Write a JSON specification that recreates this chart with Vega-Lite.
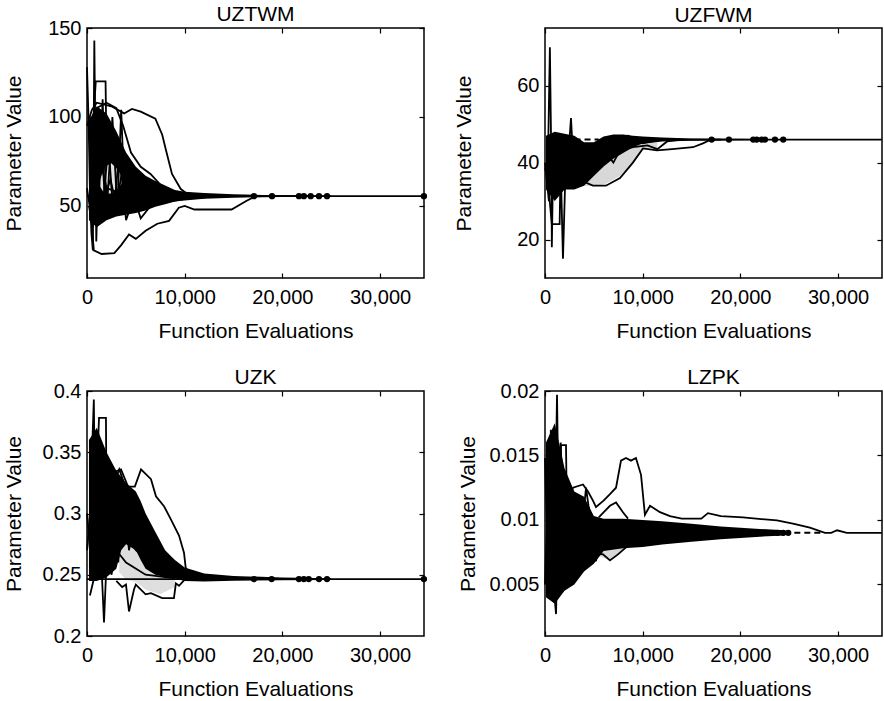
{
"$schema": "https://vega.github.io/schema/vega-lite/v6.json",
"background": "white",
"padding": {"left": 2, "top": 3, "right": 0, "bottom": 0},
"bounds": "flush",
"columns": 2,
"spacing": {"row": 113, "column": 121},
"datasets": {
"b1": [
{"k":"core","x":200,"lo":42,"hi":98},{"k":"core","x":1000,"lo":38,"hi":106},{"k":"core","x":2000,"lo":42,"hi":102},{"k":"core","x":3000,"lo":44,"hi":92},{"k":"core","x":4000,"lo":45,"hi":80},{"k":"core","x":5000,"lo":46,"hi":72},{"k":"core","x":6000,"lo":47.5,"hi":67},{"k":"core","x":7000,"lo":49.5,"hi":64},{"k":"core","x":8000,"lo":51,"hi":61.5},{"k":"core","x":9000,"lo":52.5,"hi":59},{"k":"core","x":10000,"lo":53,"hi":58},{"k":"core","x":12000,"lo":54,"hi":57.3},{"k":"core","x":15000,"lo":54.6,"hi":56.6},{"k":"core","x":18000,"lo":54.9,"hi":56.2},{"k":"core","x":22000,"lo":55.1,"hi":56},{"k":"core","x":25000,"lo":55.3,"hi":55.8},
{"k":"patch","x":1300,"lo":61,"hi":64},{"k":"patch","x":1800,"lo":57,"hi":72},{"k":"patch","x":2500,"lo":57,"hi":74},{"k":"patch","x":3200,"lo":60,"hi":70},{"k":"patch","x":3600,"lo":63,"hi":66}
],
"b2": [
{"k":"gray","x":4000,"lo":34,"hi":36},{"k":"gray","x":5000,"lo":34,"hi":38},{"k":"gray","x":6240,"lo":34.5,"hi":41},{"k":"gray","x":7680,"lo":36.5,"hi":43},{"k":"gray","x":9000,"lo":40,"hi":44.5},{"k":"gray","x":10000,"lo":43.5,"hi":45.5},{"k":"gray","x":11500,"lo":43.5,"hi":45.8},
{"k":"core","x":100,"lo":33,"hi":47},{"k":"core","x":1000,"lo":30,"hi":48},{"k":"core","x":2000,"lo":33,"hi":47.5},{"k":"core","x":3000,"lo":33,"hi":47},{"k":"core","x":4000,"lo":34,"hi":45.3},{"k":"core","x":5000,"lo":36.5,"hi":45.3},{"k":"core","x":6000,"lo":39,"hi":46.8},{"k":"core","x":7000,"lo":41,"hi":47.3},{"k":"core","x":8000,"lo":42.5,"hi":47.3},{"k":"core","x":9000,"lo":44,"hi":47},{"k":"core","x":10000,"lo":45,"hi":46.8},{"k":"core","x":12000,"lo":45.5,"hi":46.5},{"k":"core","x":15000,"lo":45.7,"hi":46.3},{"k":"core","x":20000,"lo":45.8,"hi":46.2},{"k":"core","x":24500,"lo":45.9,"hi":46.1}
],
"b3": [
{"k":"gray","x":3300,"lo":0.252,"hi":0.268},{"k":"gray","x":4000,"lo":0.246,"hi":0.275},{"k":"gray","x":5000,"lo":0.244,"hi":0.27},{"k":"gray","x":6000,"lo":0.238,"hi":0.256},{"k":"gray","x":7500,"lo":0.234,"hi":0.25},{"k":"gray","x":9000,"lo":0.24,"hi":0.248},
{"k":"core","x":200,"lo":0.245,"hi":0.36},{"k":"core","x":1000,"lo":0.245,"hi":0.37},{"k":"core","x":2000,"lo":0.248,"hi":0.35},{"k":"core","x":3000,"lo":0.255,"hi":0.335},{"k":"core","x":3500,"lo":0.27,"hi":0.33},{"k":"core","x":4000,"lo":0.275,"hi":0.325},{"k":"core","x":5000,"lo":0.27,"hi":0.318},{"k":"core","x":5500,"lo":0.262,"hi":0.31},{"k":"core","x":6000,"lo":0.255,"hi":0.3},{"k":"core","x":7000,"lo":0.25,"hi":0.285},{"k":"core","x":8000,"lo":0.248,"hi":0.27},{"k":"core","x":9000,"lo":0.247,"hi":0.262},{"k":"core","x":10000,"lo":0.245,"hi":0.256},{"k":"core","x":12000,"lo":0.2445,"hi":0.251},{"k":"core","x":15000,"lo":0.2452,"hi":0.249},{"k":"core","x":20000,"lo":0.2455,"hi":0.2478},{"k":"core","x":25000,"lo":0.2458,"hi":0.2472}
],
"b4": [
{"k":"gray","x":5500,"lo":0.0072,"hi":0.008},{"k":"gray","x":6650,"lo":0.0069,"hi":0.0079},{"k":"gray","x":7500,"lo":0.0073,"hi":0.008},{"k":"gray","x":8300,"lo":0.0078,"hi":0.0081},
{"k":"core","x":100,"lo":0.004,"hi":0.016},{"k":"core","x":1000,"lo":0.0035,"hi":0.0175},{"k":"core","x":2000,"lo":0.0045,"hi":0.014},{"k":"core","x":3000,"lo":0.005,"hi":0.0122},{"k":"core","x":4000,"lo":0.006,"hi":0.0118},{"k":"core","x":5000,"lo":0.0066,"hi":0.0103},{"k":"core","x":6000,"lo":0.0076,"hi":0.0101},{"k":"core","x":8000,"lo":0.0078,"hi":0.0101},{"k":"core","x":10000,"lo":0.0079,"hi":0.01},{"k":"core","x":12000,"lo":0.0081,"hi":0.0099},{"k":"core","x":15000,"lo":0.0083,"hi":0.0097},{"k":"core","x":18000,"lo":0.0085,"hi":0.0095},{"k":"core","x":20000,"lo":0.0086,"hi":0.0094},{"k":"core","x":22000,"lo":0.0087,"hi":0.0093},{"k":"core","x":24500,"lo":0.0088,"hi":0.0092}
],
"l1": [
{"s":"s0","x":0,"y":55.5},{"s":"s0","x":34490,"y":55.5},
{"s":"s1","x":0,"y":128},{"s":"s1","x":150,"y":100},{"s":"s1","x":300,"y":60},{"s":"s1","x":450,"y":35},{"s":"s1","x":600,"y":25},{"s":"s1","x":750,"y":143},{"s":"s1","x":850,"y":90},{"s":"s1","x":950,"y":30},{"s":"s1","x":1100,"y":60},{"s":"s1","x":1300,"y":85},{"s":"s1","x":1600,"y":70},{"s":"s1","x":2000,"y":60},{"s":"s1","x":3000,"y":58},{"s":"s1","x":5000,"y":56},{"s":"s1","x":8000,"y":55.8},{"s":"s1","x":12000,"y":55.5},
{"s":"s2","x":300,"y":70},{"s":"s2","x":600,"y":95},{"s":"s2","x":900,"y":120},{"s":"s2","x":1900,"y":120},{"s":"s2","x":2000,"y":80},{"s":"s2","x":2500,"y":90},{"s":"s2","x":3200,"y":75},{"s":"s2","x":4000,"y":65},{"s":"s2","x":6000,"y":58},{"s":"s2","x":10000,"y":56},{"s":"s2","x":14000,"y":55.5},
{"s":"s3","x":0,"y":95},{"s":"s3","x":500,"y":104},{"s":"s3","x":1000,"y":108},{"s":"s3","x":2500,"y":106},{"s":"s3","x":3800,"y":102},{"s":"s3","x":4600,"y":104.5},{"s":"s3","x":5500,"y":103},{"s":"s3","x":7000,"y":99},{"s":"s3","x":7700,"y":90},{"s":"s3","x":8100,"y":81},{"s":"s3","x":8700,"y":68},{"s":"s3","x":9600,"y":59.5},{"s":"s3","x":10200,"y":57},{"s":"s3","x":12000,"y":56},{"s":"s3","x":16000,"y":55.5},
{"s":"s4","x":0,"y":60},{"s":"s4","x":400,"y":45},{"s":"s4","x":700,"y":25},{"s":"s4","x":1500,"y":23},{"s":"s4","x":2800,"y":23.5},{"s":"s4","x":3500,"y":28},{"s":"s4","x":4300,"y":34},{"s":"s4","x":5000,"y":31.5},{"s":"s4","x":6000,"y":36},{"s":"s4","x":7200,"y":40},{"s":"s4","x":8400,"y":41.6},{"s":"s4","x":9400,"y":49},{"s":"s4","x":10000,"y":50},{"s":"s4","x":11000,"y":48},{"s":"s4","x":14800,"y":48},{"s":"s4","x":16300,"y":52.8},{"s":"s4","x":17300,"y":55.6},{"s":"s4","x":18000,"y":55.5},
{"s":"s5","x":1000,"y":105},{"s":"s5","x":2000,"y":108},{"s":"s5","x":3000,"y":105},{"s":"s5","x":3700,"y":95},{"s":"s5","x":4500,"y":80},{"s":"s5","x":5500,"y":72},{"s":"s5","x":6500,"y":68},{"s":"s5","x":7500,"y":62},{"s":"s5","x":9000,"y":58},{"s":"s5","x":11000,"y":56},
{"s":"s6","x":300,"y":45},{"s":"s6","x":800,"y":100},{"s":"s6","x":1200,"y":50},{"s":"s6","x":1600,"y":110},{"s":"s6","x":2000,"y":45},{"s":"s6","x":2600,"y":100},{"s":"s6","x":3100,"y":48},{"s":"s6","x":3500,"y":104},{"s":"s6","x":3800,"y":60},{"s":"s6","x":4500,"y":70},{"s":"s6","x":5500,"y":66},{"s":"s6","x":7000,"y":60},{"s":"s6","x":9000,"y":57},{"s":"s6","x":12000,"y":55.8},
{"s":"s7","x":200,"y":50},{"s":"s7","x":600,"y":38},{"s":"s7","x":1000,"y":80},{"s":"s7","x":1500,"y":42},{"s":"s7","x":2200,"y":85},{"s":"s7","x":2700,"y":44},{"s":"s7","x":3300,"y":80},{"s":"s7","x":4000,"y":42},{"s":"s7","x":4800,"y":55},{"s":"s7","x":5500,"y":43},{"s":"s7","x":6500,"y":50},{"s":"s7","x":8000,"y":52},{"s":"s7","x":10000,"y":54},{"s":"s7","x":13000,"y":55.3},
{"s":"s8","x":500,"y":85},{"s":"s8","x":900,"y":45},{"s":"s8","x":1400,"y":100},{"s":"s8","x":1800,"y":55},{"s":"s8","x":2400,"y":65},{"s":"s8","x":3000,"y":50},{"s":"s8","x":3600,"y":70},{"s":"s8","x":4200,"y":48},{"s":"s8","x":5000,"y":62},{"s":"s8","x":6000,"y":50},{"s":"s8","x":7500,"y":58},{"s":"s8","x":9000,"y":54},{"s":"s8","x":12000,"y":56}
],
"l2": [
{"s":"s0","x":9000,"y":46},{"s":"s0","x":34500,"y":46},
{"s":"dash","x":2000,"y":46},{"s":"dash","x":5500,"y":46},
{"s":"s1","x":0,"y":38},{"s":"s1","x":300,"y":40},{"s":"s1","x":500,"y":70},{"s":"s1","x":650,"y":40},{"s":"s1","x":700,"y":18},{"s":"s1","x":800,"y":35},{"s":"s1","x":1100,"y":45},{"s":"s1","x":1500,"y":42},{"s":"s1","x":2500,"y":44},{"s":"s1","x":4000,"y":44},{"s":"s1","x":6000,"y":45.5},{"s":"s1","x":9000,"y":46},{"s":"s1","x":12000,"y":46},
{"s":"s2","x":300,"y":35},{"s":"s2","x":700,"y":24},{"s":"s2","x":1500,"y":24},{"s":"s2","x":1600,"y":40},{"s":"s2","x":1840,"y":15},{"s":"s2","x":2100,"y":38},{"s":"s2","x":2400,"y":42},{"s":"s2","x":2660,"y":51.6},{"s":"s2","x":2900,"y":40},{"s":"s2","x":3500,"y":43},{"s":"s2","x":5000,"y":44},{"s":"s2","x":8000,"y":46},
{"s":"s3","x":3000,"y":40},{"s":"s3","x":4000,"y":35},{"s":"s3","x":4900,"y":34},{"s":"s3","x":6240,"y":34},{"s":"s3","x":7680,"y":36},{"s":"s3","x":9000,"y":40},{"s":"s3","x":10030,"y":43.7},{"s":"s3","x":11460,"y":43.2},{"s":"s3","x":13000,"y":43.5},{"s":"s3","x":15150,"y":44},{"s":"s3","x":16170,"y":45},{"s":"s3","x":17000,"y":46},{"s":"s3","x":18000,"y":46},
{"s":"s4","x":4000,"y":38},{"s":"s4","x":5000,"y":40},{"s":"s4","x":7000,"y":42.5},{"s":"s4","x":9000,"y":44},{"s":"s4","x":10500,"y":44.5},{"s":"s4","x":11500,"y":43.5},{"s":"s4","x":12500,"y":45.5},{"s":"s4","x":14000,"y":46},
{"s":"s5","x":0,"y":40},{"s":"s5","x":400,"y":30},{"s":"s5","x":800,"y":45},{"s":"s5","x":1200,"y":32},{"s":"s5","x":1600,"y":47},{"s":"s5","x":2100,"y":34},{"s":"s5","x":2600,"y":47},{"s":"s5","x":3200,"y":34},{"s":"s5","x":3800,"y":45},{"s":"s5","x":4500,"y":36},{"s":"s5","x":5500,"y":45},{"s":"s5","x":7000,"y":40},{"s":"s5","x":8500,"y":47},{"s":"s5","x":10000,"y":45},{"s":"s5","x":12000,"y":46}
],
"l3": [
{"s":"s0","x":0,"y":0.2465},{"s":"s0","x":34490,"y":0.2465},
{"s":"s1","x":0,"y":0.27},{"s":"s1","x":300,"y":0.3},{"s":"s1","x":700,"y":0.393},{"s":"s1","x":900,"y":0.25},{"s":"s1","x":1100,"y":0.36},{"s":"s1","x":1500,"y":0.3},{"s":"s1","x":2000,"y":0.33},{"s":"s1","x":3000,"y":0.3},{"s":"s1","x":5000,"y":0.28},{"s":"s1","x":8000,"y":0.255},{"s":"s1","x":11000,"y":0.247},
{"s":"s2","x":500,"y":0.3},{"s":"s2","x":1000,"y":0.33},{"s":"s2","x":1230,"y":0.378},{"s":"s2","x":1940,"y":0.378},{"s":"s2","x":2000,"y":0.3},{"s":"s2","x":2300,"y":0.33},{"s":"s2","x":2800,"y":0.31},{"s":"s2","x":3500,"y":0.29},{"s":"s2","x":5000,"y":0.27},{"s":"s2","x":8000,"y":0.252},{"s":"s2","x":11000,"y":0.247},
{"s":"s3","x":300,"y":0.233},{"s":"s3","x":800,"y":0.25},{"s":"s3","x":1300,"y":0.29},{"s":"s3","x":1740,"y":0.211},{"s":"s3","x":2100,"y":0.28},{"s":"s3","x":2500,"y":0.25},{"s":"s3","x":3000,"y":0.27},{"s":"s3","x":4000,"y":0.26},{"s":"s3","x":6000,"y":0.25},{"s":"s3","x":9000,"y":0.247},
{"s":"s4","x":2000,"y":0.31},{"s":"s4","x":2460,"y":0.333},{"s":"s4","x":3480,"y":0.336},{"s":"s4","x":4200,"y":0.322},{"s":"s4","x":4900,"y":0.322},{"s":"s4","x":5530,"y":0.336},{"s":"s4","x":6550,"y":0.328},{"s":"s4","x":7060,"y":0.314},{"s":"s4","x":7880,"y":0.306},{"s":"s4","x":8600,"y":0.295},{"s":"s4","x":9420,"y":0.282},{"s":"s4","x":9930,"y":0.268},{"s":"s4","x":10100,"y":0.256},{"s":"s4","x":10650,"y":0.247},{"s":"s4","x":12000,"y":0.247},
{"s":"s5","x":2500,"y":0.32},{"s":"s5","x":3300,"y":0.336},{"s":"s5","x":4000,"y":0.32},{"s":"s5","x":4500,"y":0.31},{"s":"s5","x":5000,"y":0.29},{"s":"s5","x":6000,"y":0.28},{"s":"s5","x":7000,"y":0.265},{"s":"s5","x":8500,"y":0.255},{"s":"s5","x":10000,"y":0.25},
{"s":"s6","x":3000,"y":0.245},{"s":"s6","x":3600,"y":0.24},{"s":"s6","x":3990,"y":0.242},{"s":"s6","x":4300,"y":0.22},{"s":"s6","x":4810,"y":0.238},{"s":"s6","x":5000,"y":0.242},{"s":"s6","x":6000,"y":0.234},{"s":"s6","x":6550,"y":0.235},{"s":"s6","x":7700,"y":0.231},{"s":"s6","x":8900,"y":0.231},{"s":"s6","x":9100,"y":0.243},{"s":"s6","x":9420,"y":0.241},{"s":"s6","x":10000,"y":0.246},
{"s":"s7","x":0,"y":0.3},{"s":"s7","x":400,"y":0.26},{"s":"s7","x":800,"y":0.35},{"s":"s7","x":1200,"y":0.26},{"s":"s7","x":1600,"y":0.35},{"s":"s7","x":2100,"y":0.27},{"s":"s7","x":2600,"y":0.33},{"s":"s7","x":3200,"y":0.26},{"s":"s7","x":3700,"y":0.32},{"s":"s7","x":4300,"y":0.27},{"s":"s7","x":5000,"y":0.3},{"s":"s7","x":6000,"y":0.27},{"s":"s7","x":7500,"y":0.26},{"s":"s7","x":9000,"y":0.25}
],
"l4": [
{"s":"dash","x":24500,"y":0.009},{"s":"dash","x":28500,"y":0.009},
{"s":"s1","x":0,"y":0.0148},{"s":"s1","x":300,"y":0.006},{"s":"s1","x":600,"y":0.017},{"s":"s1","x":900,"y":0.004},{"s":"s1","x":1230,"y":0.0197},{"s":"s1","x":1500,"y":0.005},{"s":"s1","x":1800,"y":0.012},{"s":"s1","x":2500,"y":0.008},{"s":"s1","x":4000,"y":0.0095},{"s":"s1","x":7000,"y":0.0085},{"s":"s1","x":12000,"y":0.009},
{"s":"s2","x":300,"y":0.01},{"s":"s2","x":1130,"y":0.0027},{"s":"s2","x":1400,"y":0.012},{"s":"s2","x":1640,"y":0.0158},{"s":"s2","x":2150,"y":0.0158},{"s":"s2","x":2300,"y":0.007},{"s":"s2","x":2700,"y":0.011},{"s":"s2","x":3500,"y":0.0075},{"s":"s2","x":5000,"y":0.0095},{"s":"s2","x":8000,"y":0.0088},{"s":"s2","x":12000,"y":0.009},
{"s":"s3","x":2000,"y":0.011},{"s":"s3","x":2870,"y":0.0125},{"s":"s3","x":3890,"y":0.01275},{"s":"s3","x":4400,"y":0.0122},{"s":"s3","x":4910,"y":0.0115},{"s":"s3","x":5220,"y":0.011},{"s":"s3","x":6000,"y":0.0115},{"s":"s3","x":6650,"y":0.012},{"s":"s3","x":7270,"y":0.0125},{"s":"s3","x":7780,"y":0.0146},{"s":"s3","x":8290,"y":0.0148},{"s":"s3","x":8800,"y":0.0146},{"s":"s3","x":9310,"y":0.0148},{"s":"s3","x":9830,"y":0.0135},{"s":"s3","x":10230,"y":0.0104},{"s":"s3","x":10750,"y":0.0111},{"s":"s3","x":11770,"y":0.0106},{"s":"s3","x":12790,"y":0.0103},{"s":"s3","x":14000,"y":0.0101},{"s":"s3","x":16000,"y":0.0101},{"s":"s3","x":16680,"y":0.01053},{"s":"s3","x":18000,"y":0.0103},{"s":"s3","x":20270,"y":0.0102},{"s":"s3","x":23750,"y":0.00996},{"s":"s3","x":25500,"y":0.0097},{"s":"s3","x":27120,"y":0.0094},{"s":"s3","x":28660,"y":0.009},{"s":"s3","x":29300,"y":0.009},{"s":"s3","x":29900,"y":0.0092},{"s":"s3","x":30900,"y":0.009},{"s":"s3","x":34500,"y":0.009},
{"s":"s4","x":5500,"y":0.0102},{"s":"s4","x":6650,"y":0.0111},{"s":"s4","x":7270,"y":0.01136},{"s":"s4","x":7980,"y":0.0106},{"s":"s4","x":8500,"y":0.0101},
{"s":"s5","x":4500,"y":0.0075},{"s":"s5","x":5940,"y":0.00733},{"s":"s5","x":6650,"y":0.00686},{"s":"s5","x":7470,"y":0.00733},{"s":"s5","x":8290,"y":0.00787},{"s":"s5","x":9000,"y":0.0082},{"s":"s5","x":10000,"y":0.0083},
{"s":"s6","x":0,"y":0.005},{"s":"s6","x":300,"y":0.013},{"s":"s6","x":700,"y":0.004},{"s":"s6","x":1000,"y":0.015},{"s":"s6","x":1500,"y":0.0045},{"s":"s6","x":2000,"y":0.012},{"s":"s6","x":2600,"y":0.0055},{"s":"s6","x":3200,"y":0.0115},{"s":"s6","x":3800,"y":0.006},{"s":"s6","x":4500,"y":0.011},{"s":"s6","x":5200,"y":0.0068},{"s":"s6","x":6000,"y":0.0095},{"s":"s6","x":8000,"y":0.0085},{"s":"s6","x":11000,"y":0.0091},
{"s":"s7","x":500,"y":0.0165},{"s":"s7","x":800,"y":0.006},{"s":"s7","x":1600,"y":0.016},{"s":"s7","x":2000,"y":0.008},{"s":"s7","x":3000,"y":0.012},{"s":"s7","x":3500,"y":0.007},{"s":"s7","x":4200,"y":0.0125},{"s":"s7","x":5000,"y":0.008},{"s":"s7","x":6500,"y":0.0098},{"s":"s7","x":9000,"y":0.0087}
],
"p1": [{"x":17090,"y":55.5},{"x":18940,"y":55.5},{"x":21700,"y":55.5},{"x":22200,"y":55.5},{"x":22900,"y":55.5},{"x":23750,"y":55.5},{"x":24570,"y":55.5},{"x":34490,"y":55.5}],
"p2": [{"x":17060,"y":46},{"x":18830,"y":46},{"x":21320,"y":46},{"x":21670,"y":46},{"x":22180,"y":46},{"x":22520,"y":46},{"x":23540,"y":46},{"x":24390,"y":46}],
"p3": [{"x":17090,"y":0.2465},{"x":18900,"y":0.2465},{"x":21700,"y":0.2465},{"x":22200,"y":0.2465},{"x":22700,"y":0.2465},{"x":23750,"y":0.2465},{"x":24570,"y":0.2465},{"x":34490,"y":0.2465}],
"p4": [{"x":21400,"y":0.009},{"x":22000,"y":0.009},{"x":22600,"y":0.009},{"x":23800,"y":0.009},{"x":24400,"y":0.009},{"x":24900,"y":0.009}]
},
"concat": [
{"width": 337, "height": 250, "title": {"text": "UZTWM", "offset": -7},
 "layer": [
  {"data": {"name": "b1"}, "transform": [{"filter": "datum.k=='core'"}], "mark": {"type": "area", "color": "black", "opacity": 1},
   "encoding": {"x": {"field": "x", "type": "quantitative", "scale": {"domain": [0,34500], "nice": false, "zero": false}, "axis": {"orient": "bottom", "values": [0,10000,20000,30000], "format": ",d", "title": "Function Evaluations"}},
    "y": {"field": "lo", "type": "quantitative", "scale": {"domain": [9.5,150], "nice": false, "zero": false}, "axis": {"orient": "left", "values": [50,100,150], "format": "~f", "title": "Parameter Value", "titleX": -63}}, "y2": {"field": "hi"}}},
  {"data": {"name": "b1"}, "transform": [{"filter": "datum.k=='patch'"}], "mark": {"type": "area", "color": "#e4e4e4", "opacity": 1},
   "encoding": {"x": {"field": "x", "type": "quantitative", "axis": null}, "y": {"field": "lo", "type": "quantitative", "axis": null}, "y2": {"field": "hi"}}},
  {"data": {"name": "l1"}, "mark": {"type": "line", "color": "black", "strokeWidth": 1.8},
   "encoding": {"x": {"field": "x", "type": "quantitative", "axis": null}, "y": {"field": "y", "type": "quantitative", "axis": null}, "detail": {"field": "s"}}},
  {"data": {"name": "p1"}, "mark": {"type": "circle", "color": "black", "opacity": 1, "size": 40},
   "encoding": {"x": {"field": "x", "type": "quantitative", "axis": {"orient": "top", "values": [0,10000,20000,30000], "labels": false, "title": null}}, "y": {"field": "y", "type": "quantitative", "axis": {"orient": "right", "values": [50,100,150], "labels": false, "title": null}}}}
 ],
 "resolve": {"axis": {"x": "independent", "y": "independent"}}
},
{"width": 337, "height": 250, "title": {"text": "UZFWM", "offset": 1},
 "layer": [
  {"data": {"name": "b2"}, "transform": [{"filter": "datum.k=='gray'"}], "mark": {"type": "area", "color": "#d8d8d8", "opacity": 1},
   "encoding": {"x": {"field": "x", "type": "quantitative", "scale": {"domain": [0,34500], "nice": false, "zero": false}, "axis": {"orient": "bottom", "values": [0,10000,20000,30000], "format": ",d", "title": "Function Evaluations"}},
    "y": {"field": "lo", "type": "quantitative", "scale": {"domain": [10,75], "nice": false, "zero": false}, "axis": {"orient": "left", "values": [20,40,60], "format": "~f", "title": "Parameter Value", "titleX": -71}}, "y2": {"field": "hi"}}},
  {"data": {"name": "b2"}, "transform": [{"filter": "datum.k=='core'"}], "mark": {"type": "area", "color": "black", "opacity": 1},
   "encoding": {"x": {"field": "x", "type": "quantitative", "axis": null}, "y": {"field": "lo", "type": "quantitative", "axis": null}, "y2": {"field": "hi"}}},
  {"data": {"name": "l2"}, "transform": [{"filter": "datum.s!='dash'"}], "mark": {"type": "line", "color": "black", "strokeWidth": 1.8},
   "encoding": {"x": {"field": "x", "type": "quantitative", "axis": null}, "y": {"field": "y", "type": "quantitative", "axis": null}, "detail": {"field": "s"}}},
  {"data": {"name": "l2"}, "transform": [{"filter": "datum.s=='dash'"}], "mark": {"type": "line", "color": "black", "strokeWidth": 2, "strokeDash": [6,4]},
   "encoding": {"x": {"field": "x", "type": "quantitative", "axis": null}, "y": {"field": "y", "type": "quantitative", "axis": null}}},
  {"data": {"name": "p2"}, "mark": {"type": "circle", "color": "black", "opacity": 1, "size": 40},
   "encoding": {"x": {"field": "x", "type": "quantitative", "axis": {"orient": "top", "values": [0,10000,20000,30000], "labels": false, "title": null}}, "y": {"field": "y", "type": "quantitative", "axis": {"orient": "right", "values": [20,40,60], "labels": false, "title": null}}}}
 ],
 "resolve": {"axis": {"x": "independent", "y": "independent"}}
},
{"width": 337, "height": 245, "title": {"text": "UZK", "offset": -7},
 "layer": [
  {"data": {"name": "b3"}, "transform": [{"filter": "datum.k=='gray'"}], "mark": {"type": "area", "color": "#dedede", "opacity": 1},
   "encoding": {"x": {"field": "x", "type": "quantitative", "scale": {"domain": [0,34500], "nice": false, "zero": false}, "axis": {"orient": "bottom", "values": [0,10000,20000,30000], "format": ",d", "title": "Function Evaluations"}},
    "y": {"field": "lo", "type": "quantitative", "scale": {"domain": [0.2,0.4], "nice": false, "zero": false}, "axis": {"orient": "left", "values": [0.2,0.25,0.3,0.35,0.4], "format": "~f", "title": "Parameter Value", "titleX": -63}}, "y2": {"field": "hi"}}},
  {"data": {"name": "b3"}, "transform": [{"filter": "datum.k=='core'"}], "mark": {"type": "area", "color": "black", "opacity": 1},
   "encoding": {"x": {"field": "x", "type": "quantitative", "axis": null}, "y": {"field": "lo", "type": "quantitative", "axis": null}, "y2": {"field": "hi"}}},
  {"data": {"name": "l3"}, "mark": {"type": "line", "color": "black", "strokeWidth": 1.8},
   "encoding": {"x": {"field": "x", "type": "quantitative", "axis": null}, "y": {"field": "y", "type": "quantitative", "axis": null}, "detail": {"field": "s"}}},
  {"data": {"name": "p3"}, "mark": {"type": "circle", "color": "black", "opacity": 1, "size": 40},
   "encoding": {"x": {"field": "x", "type": "quantitative", "axis": {"orient": "top", "values": [0,10000,20000,30000], "labels": false, "title": null}}, "y": {"field": "y", "type": "quantitative", "axis": {"orient": "right", "values": [0.25,0.3,0.35], "labels": false, "title": null}}}}
 ],
 "resolve": {"axis": {"x": "independent", "y": "independent"}}
},
{"width": 337, "height": 245, "title": {"text": "LZPK", "offset": -7},
 "layer": [
  {"data": {"name": "b4"}, "transform": [{"filter": "datum.k=='gray'"}], "mark": {"type": "area", "color": "#d8d8d8", "opacity": 1},
   "encoding": {"x": {"field": "x", "type": "quantitative", "scale": {"domain": [0,34500], "nice": false, "zero": false}, "axis": {"orient": "bottom", "values": [0,10000,20000,30000], "format": ",d", "title": "Function Evaluations"}},
    "y": {"field": "lo", "type": "quantitative", "scale": {"domain": [0.001,0.02], "nice": false, "zero": false}, "axis": {"orient": "left", "values": [0.005,0.01,0.015,0.02], "format": "~f", "title": "Parameter Value", "titleX": -67}}, "y2": {"field": "hi"}}},
  {"data": {"name": "b4"}, "transform": [{"filter": "datum.k=='core'"}], "mark": {"type": "area", "color": "black", "opacity": 1},
   "encoding": {"x": {"field": "x", "type": "quantitative", "axis": null}, "y": {"field": "lo", "type": "quantitative", "axis": null}, "y2": {"field": "hi"}}},
  {"data": {"name": "l4"}, "transform": [{"filter": "datum.s!='dash'"}], "mark": {"type": "line", "color": "black", "strokeWidth": 1.8},
   "encoding": {"x": {"field": "x", "type": "quantitative", "axis": null}, "y": {"field": "y", "type": "quantitative", "axis": null}, "detail": {"field": "s"}}},
  {"data": {"name": "l4"}, "transform": [{"filter": "datum.s=='dash'"}], "mark": {"type": "line", "color": "black", "strokeWidth": 2, "strokeDash": [6,4]},
   "encoding": {"x": {"field": "x", "type": "quantitative", "axis": null}, "y": {"field": "y", "type": "quantitative", "axis": null}}},
  {"data": {"name": "p4"}, "mark": {"type": "circle", "color": "black", "opacity": 1, "size": 40},
   "encoding": {"x": {"field": "x", "type": "quantitative", "axis": {"orient": "top", "values": [0,10000,20000,30000], "labels": false, "title": null}}, "y": {"field": "y", "type": "quantitative", "axis": {"orient": "right", "values": [0.005,0.01,0.015], "labels": false, "title": null}}}}
 ],
 "resolve": {"axis": {"x": "independent", "y": "independent"}}
}
],
"config": {
 "font": "Liberation Sans",
 "view": {"stroke": "black", "strokeWidth": 1.5},
 "axis": {"labelFontSize": 20, "titleFontSize": 21, "titleFontWeight": "normal", "labelColor": "black", "titleColor": "black", "tickColor": "black", "tickWidth": 1.2, "domain": false, "grid": false, "tickSize": -5, "labelFlush": false, "labelOverlap": false},
 "axisX": {"labelPadding": 14, "titlePadding": 13},
 "axisY": {"labelPadding": 11},
 "title": {"fontSize": 21, "fontWeight": "normal", "color": "black"}
}
}
